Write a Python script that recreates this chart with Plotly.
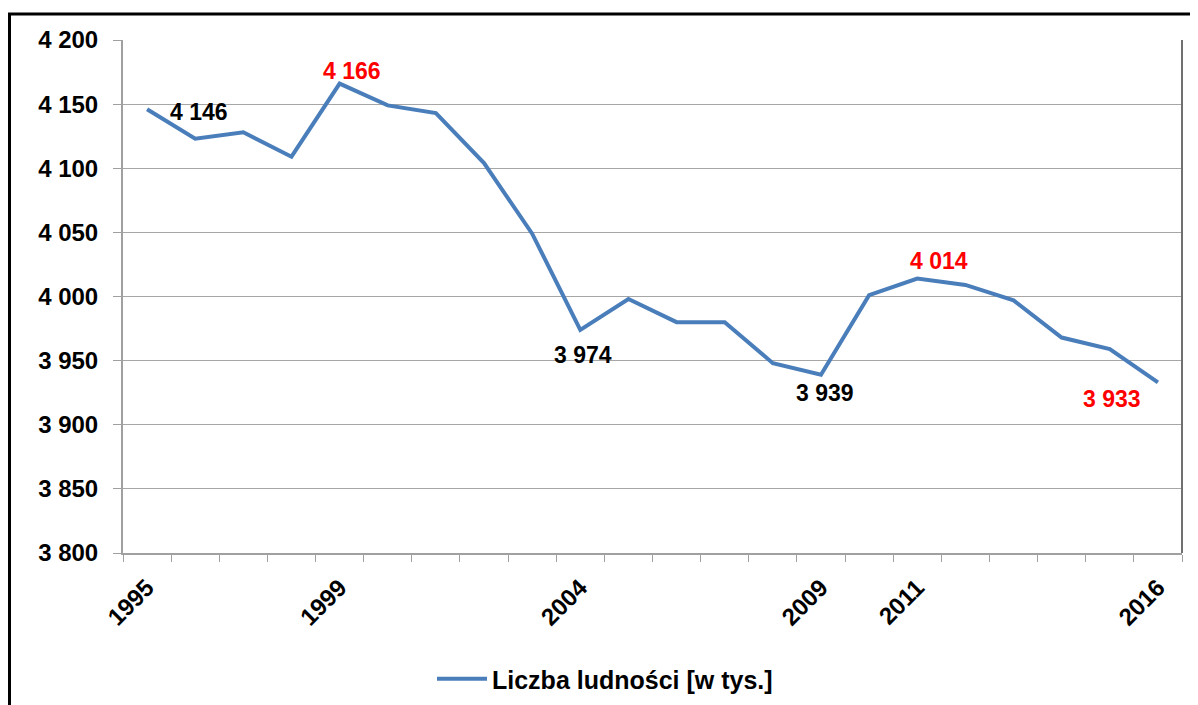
import plotly.graph_objects as go

years = [str(y) for y in range(1995, 2017)]
population = [4146, 4123, 4128, 4109, 4166, 4149, 4143, 4104, 4049, 3974, 3998,
              3980, 3980, 3948, 3939, 4001, 4014, 4009, 3997, 3968, 3959, 3933]
tick_labels = ["1995", "", "", "", "1999", "", "", "", "", "2004", "", "", "", "",
               "2009", "", "2011", "", "", "", "", "2016"]
label_years = ["1995", "1999", "2004", "2009", "2011", "2016"]
label_colors = ["#000000", "#FF0000", "#000000", "#000000", "#FF0000", "#FF0000"]
series_name = "Liczba ludności [w tys.]"

FONT = "Liberation Sans, Arial, sans-serif"
PAGE_OFF = 8            # default body margin of the html page
W, H = 1198 - PAGE_OFF, 705 - PAGE_OFF
# plot area in page pixels: x 123..1182, y 40..553
L, R, T, B = 123 - PAGE_OFF, 1198 - 1182, 40 - PAGE_OFF, 705 - 553
pw, ph = W - L - R, H - T - B

fig = go.Figure()
fig.add_trace(go.Scatter(
    x=years, y=population, mode="lines", name=series_name,
    line=dict(color="#4A7EBB", width=4),
))

# label offsets (styling) in pixels
offsets = {"1995": (52, -3), "1999": (12, 13), "2004": (3, -25),
           "2009": (4, -18), "2011": (22, 18), "2016": (-46, -17)}
for yr, col in zip(label_years, label_colors):
    i = years.index(yr)
    v = population[i]
    txt = f"{v:,}".replace(",", " ")
    dx, dy = offsets[yr]
    fig.add_annotation(x=i, y=v, xref="x", yref="y", text=f"<b>{txt}</b>",
                       showarrow=False, xshift=dx, yshift=dy,
                       font=dict(family=FONT, size=23, color=col))

def px_x(p):  # page pixel -> paper x
    return (p - PAGE_OFF - L) / pw

def px_y(p):  # page pixel -> paper y
    return (PAGE_OFF + T + ph - p) / ph

# outer black frame (left and top visible)
fig.add_shape(type="rect", xref="paper", yref="paper",
              x0=px_x(9.5), x1=px_x(1260), y0=px_y(780), y1=px_y(14),
              line=dict(color="#000000", width=3), fillcolor="rgba(0,0,0,0)",
              layer="above")
# plot area right border (dark gray)
fig.add_shape(type="line", xref="paper", yref="paper", x0=1, x1=1, y0=0, y1=1,
              line=dict(color="#707070", width=2), layer="above")

fig.update_layout(
    width=W, height=H,
    margin=dict(l=L, r=R, t=T, b=B, autoexpand=False),
    paper_bgcolor="white", plot_bgcolor="white",
    separators=", ",
    font=dict(family=FONT, color="#000000"),
    showlegend=True,
    legend=dict(orientation="h", x=px_x(605), xanchor="center",
                y=px_y(679), yanchor="middle", itemwidth=50,
                font=dict(family=FONT, size=25, color="#000000", weight="bold"),
                bgcolor="rgba(0,0,0,0)"),
    hovermode=False,
)
fig.update_xaxes(
    type="category", range=[-0.5, len(years) - 0.5], automargin=False,
    tickmode="array", tickvals=years, ticktext=tick_labels,
    tickson="boundaries", ticks="outside", ticklen=7, tickcolor="#A0A0A0",
    showgrid=False, showline=True, linecolor="#A0A0A0", linewidth=2,
    tickangle=-45, ticklabelstandoff=9,
    tickfont=dict(family=FONT, size=24, color="#000000", weight="bold"),
)
fig.update_yaxes(
    range=[3800, 4200], dtick=50, tick0=3800, tickformat=",d", automargin=False,
    ticks="outside", ticklen=8, tickcolor="#A0A0A0",
    showgrid=True, gridcolor="#A6A6A6", gridwidth=1,
    showline=True, linecolor="#A0A0A0", linewidth=2,
    ticklabelstandoff=10, zeroline=False,
    tickfont=dict(family=FONT, size=24, color="#000000", weight="bold"),
)

fig.write_html("out.html")
